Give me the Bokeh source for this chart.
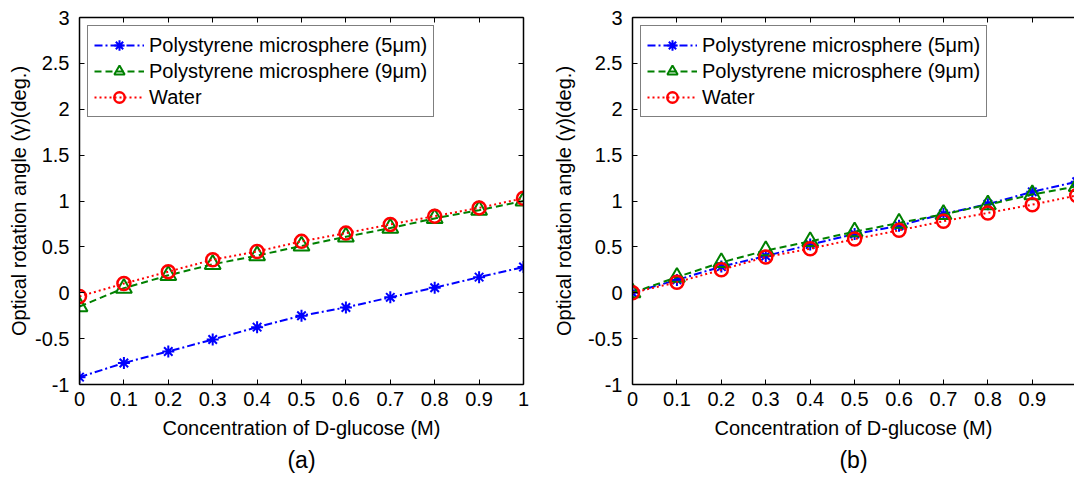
from bokeh.plotting import figure
from bokeh.layouts import row
from bokeh.models import (Range1d, FixedTicker, NumeralTickFormatter, LinearAxis,
                          Title, Legend, LegendItem)
from bokeh.embed import file_html
from bokeh.resources import INLINE

# ---------------- data ----------------
conc = [0.0, 0.1, 0.2, 0.3, 0.4, 0.5, 0.6, 0.7, 0.8, 0.9, 1.0]

a_ps5 = [-0.92, -0.765, -0.64, -0.51, -0.375, -0.25, -0.16, -0.05, 0.055, 0.17, 0.28]
a_ps9 = [-0.15, 0.05, 0.19, 0.31, 0.405, 0.51, 0.61, 0.705, 0.81, 0.9, 1.0]
a_water = [-0.04, 0.1, 0.23, 0.36, 0.45, 0.56, 0.65, 0.745, 0.835, 0.925, 1.03]

b_ps5 = [0.0, 0.14, 0.285, 0.4, 0.525, 0.64, 0.73, 0.86, 0.965, 1.1, 1.21]
b_ps9 = [0.0, 0.17, 0.33, 0.46, 0.56, 0.665, 0.76, 0.855, 0.96, 1.07, 1.16]
b_water = [0.0, 0.115, 0.25, 0.39, 0.48, 0.585, 0.68, 0.78, 0.87, 0.96, 1.06]

series_labels = ["Polystyrene microsphere (5\u03bcm)",
                 "Polystyrene microsphere (9\u03bcm)",
                 "Water"]
x_ticks = [0.0, 0.1, 0.2, 0.3, 0.4, 0.5, 0.6, 0.7, 0.8, 0.9, 1.0]
y_ticks = [-1.0, -0.5, 0.0, 0.5, 1.0, 1.5, 2.0, 2.5, 3.0]
x_title = "Concentration of D-glucose (M)"
y_title = "Optical rotation angle (\u03b3)(deg.)"

FONT = "Liberation Sans"
FS = "20px"


def style_axis(ax, labels=True):
    ax.axis_line_color = "black"
    ax.axis_line_width = 1.5
    ax.major_tick_in = 5
    ax.major_tick_out = 0
    ax.minor_tick_in = 0
    ax.minor_tick_out = 0
    ax.major_tick_line_color = "black"
    ax.major_tick_line_width = 1
    ax.major_label_text_font = FONT
    ax.major_label_text_color = "black"
    ax.axis_label_text_font = FONT
    ax.axis_label_text_font_size = FS
    ax.axis_label_text_font_style = "normal"
    ax.axis_label_text_color = "black"
    ax.formatter = NumeralTickFormatter(format="0.[0]")
    if labels:
        ax.major_label_text_font_size = FS
    else:
        ax.major_label_text_font_size = "1px"
        ax.major_label_text_color = None
        ax.major_label_standoff = 0


def make_panel(ps5, ps9, water, tag, width, mbl, mbr, x_end, right_box, ylab_standoff):
    p = figure(width=width, height=477, output_backend="svg", toolbar_location=None,
               x_range=Range1d(0, x_end), y_range=Range1d(-1, 3),
               min_border_left=mbl, min_border_right=mbr, min_border_top=17,
               min_border_bottom=93, background_fill_color="white",
               border_fill_color="white")
    p.outline_line_color = None
    p.grid.visible = False

    p.xaxis.ticker = FixedTicker(ticks=x_ticks)
    p.yaxis.ticker = FixedTicker(ticks=y_ticks)
    style_axis(p.xaxis[0])
    style_axis(p.yaxis[0])
    p.xaxis.axis_label = x_title
    p.yaxis.axis_label = y_title
    p.xaxis.major_label_standoff = 7
    p.yaxis.major_label_standoff = 10
    p.xaxis.axis_label_standoff = 8
    p.yaxis.axis_label_standoff = ylab_standoff

    top = LinearAxis(ticker=FixedTicker(ticks=x_ticks))
    style_axis(top, labels=False)
    p.add_layout(top, "above")
    if right_box:
        rt = LinearAxis(ticker=FixedTicker(ticks=y_ticks))
        style_axis(rt, labels=False)
        p.add_layout(rt, "right")

    l1 = p.line(conc, ps5, line_color="#0000ff", line_width=2, line_dash="8 3 2 3")
    m1 = p.scatter(conc, ps5, marker="asterisk", size=12, line_color="#0000ff", line_width=2)
    l2 = p.line(conc, ps9, line_color="#008000", line_width=2, line_dash="7 4")
    m2 = p.scatter(conc, ps9, marker="triangle", size=16, line_color="#008000",
                   fill_color=None, line_width=2)
    l3 = p.line(conc, water, line_color="#ff0000", line_width=2, line_dash="2 3")
    m3 = p.scatter(conc, water, marker="circle", size=13, line_color="#ff0000",
                   fill_color=None, line_width=2.5)

    leg = Legend(items=[LegendItem(label=series_labels[0], renderers=[l1, m1]),
                        LegendItem(label=series_labels[1], renderers=[l2, m2]),
                        LegendItem(label=series_labels[2], renderers=[l3, m3])],
                 location="top_left")
    leg.margin = 8
    leg.padding = 6
    leg.spacing = 0
    leg.label_height = 26
    leg.glyph_height = 26
    leg.glyph_width = 50
    leg.label_standoff = 5
    leg.label_text_font = FONT
    leg.label_text_font_size = FS
    leg.label_text_color = "black"
    leg.border_line_color = "black"
    leg.border_line_width = 1.5
    leg.background_fill_color = "white"
    leg.background_fill_alpha = 1
    p.add_layout(leg)

    t = Title(text=tag, align="center", text_font=FONT, text_font_size="23px",
              text_font_style="normal", text_color="black", standoff=6)
    p.add_layout(t, "below")
    return p


pa = make_panel(a_ps5, a_ps9, a_water, "(a)", 540, 79, 17, 1.0, True, 2)
pb = make_panel(b_ps5, b_ps9, b_water, "(b)", 534, 92, 0, 0.995, False, 10)

layout = row(pa, pb)
open("out.html", "w").write(file_html(layout, INLINE))
